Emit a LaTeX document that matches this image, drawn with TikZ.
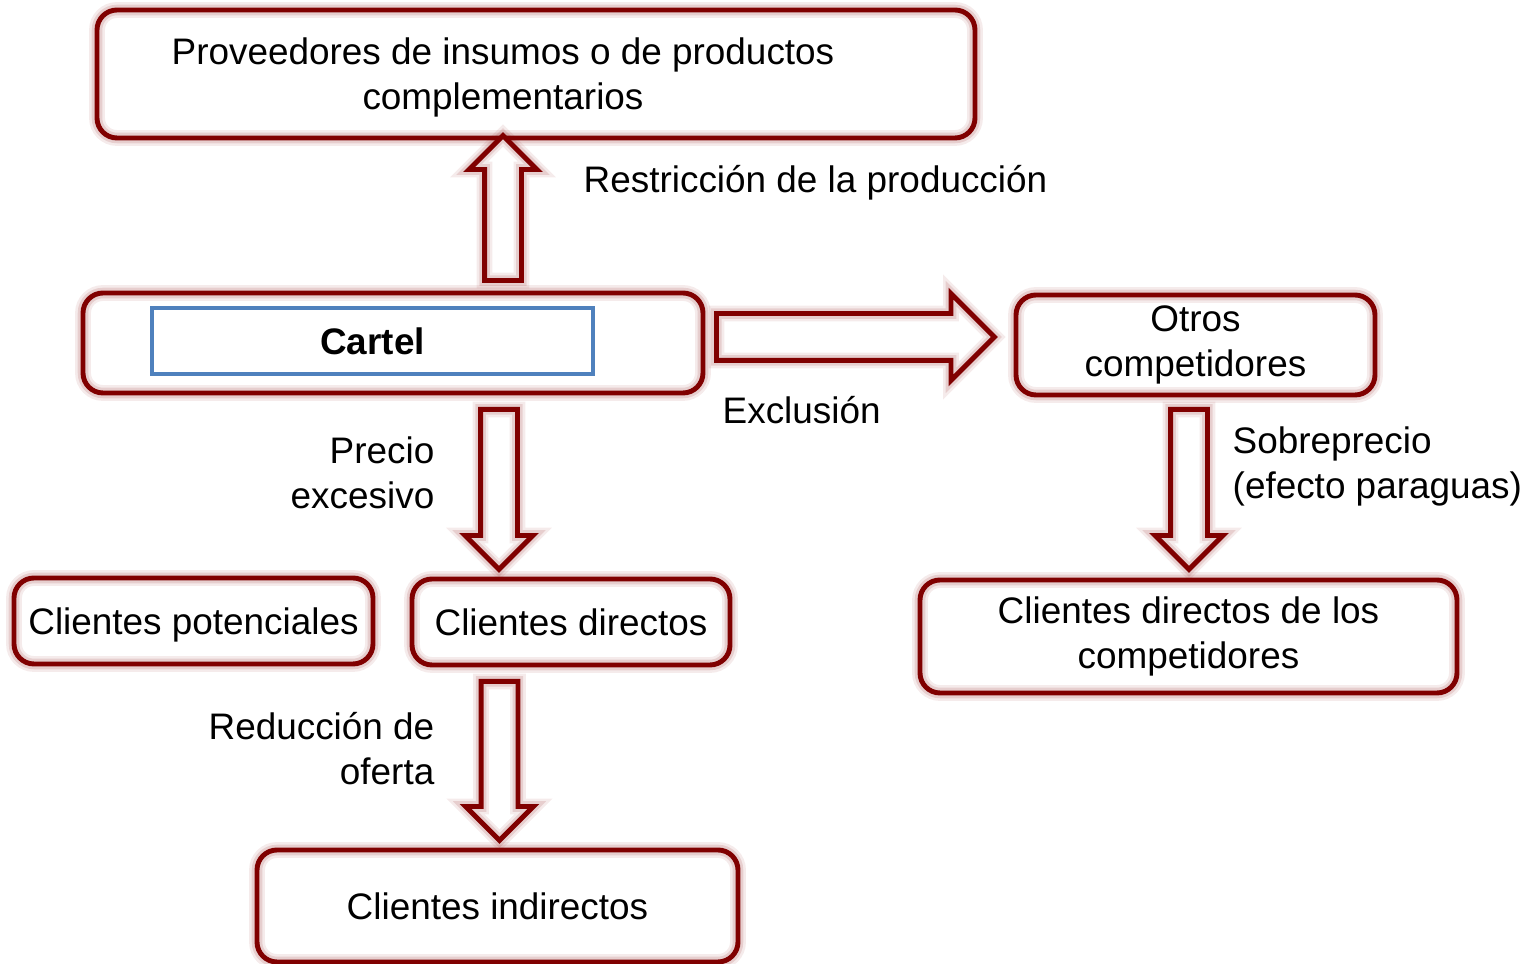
\documentclass[tikz,border=0pt]{standalone}
\usepackage{fontspec}
\setmainfont{Liberation Sans}
\usetikzlibrary{shapes.arrows}
\definecolor{cartelred}{RGB}{128,0,0}
\definecolor{cartelblue}{RGB}{79,129,189}
\tikzset{
  glow/.style={postaction={draw=cartelred,line width=4.5pt,opacity=.08},postaction={draw=cartelred,line width=3pt,opacity=.12}},
  box/.style={draw=cartelred,line width=1.4pt,rounded corners=0.2cm,fill=white,glow,align=center,inner sep=0pt},
  blockarrow/.style={single arrow,draw=cartelred,line width=1.4pt,fill=white,glow,inner xsep=0pt,inner ysep=0.16cm,single arrow head extend=0.155cm,anchor=tail},
  lbl/.style={inner sep=0pt}
}

\begin{document}
\begin{tikzpicture}[every node/.style={font=\fontsize{10.5}{12.8}\selectfont}]
\useasboundingbox (0,0) rectangle (15.35,9.64);
\node[box,minimum width=8.78cm,minimum height=1.28cm] (prov) at (5.36,8.90) {};
\node[align=center] (provtxt) at (5.03,8.87) {Proveedores de insumos o de productos\\complementarios};
\node[box,minimum width=6.20cm,minimum height=1.00cm] (cartel) at (3.93,6.21) {};
\node[draw=cartelblue,line width=1.1pt,minimum width=4.41cm,minimum height=0.66cm] (cartelin) at (3.725,6.23) {\bfseries Cartel};
\node[box,minimum width=3.59cm,minimum height=1.00cm] (otros) at (11.955,6.19) {Otros\\competidores};
\node[box,minimum width=3.59cm,minimum height=0.86cm,text depth=0pt] (potenciales) at (1.935,3.43) {Clientes potenciales};
\node[box,minimum width=3.18cm,minimum height=0.86cm] (directos) at (5.71,3.42) {Clientes directos};
\node[box,minimum width=5.37cm,minimum height=1.13cm] (dircomp) at (11.885,3.275) {Clientes directos de los\\competidores};
\node[box,minimum width=4.81cm,minimum height=1.12cm] (indirectos) at (4.975,0.58) {Clientes indirectos};
\node[blockarrow,rotate=90,minimum height=1.45cm] (restr) at (5.03,6.81) {};
\node[blockarrow,inner ysep=0.21cm,single arrow head extend=0.2cm,minimum height=2.78cm] (excl) at (7.14,6.27) {};
\foreach \name/\x/\y/\len in {precio/4.99/5.57/1.60, reduc/4.995/2.85/1.59, sobre/11.89/5.57/1.60}
  \node[blockarrow,rotate=-90,minimum height=\len cm] (\name) at (\x,\y) {};
\node[lbl,anchor=west] (lrestr) at (5.83,7.81) {Restricción de la producción};
\node[lbl,anchor=west] (lexcl) at (7.22,5.54) {Exclusión};
\node[lbl,anchor=east,align=right] (lprecio) at (4.35,4.91) {Precio\\excesivo};
\node[lbl,anchor=east,align=right] (lreduc) at (4.35,2.15) {Reducción de\\oferta};
\node[lbl,anchor=west,align=left] (lsobre) at (12.32,4.98) {Sobreprecio\\(efecto paraguas)};
\end{tikzpicture}
\end{document}
